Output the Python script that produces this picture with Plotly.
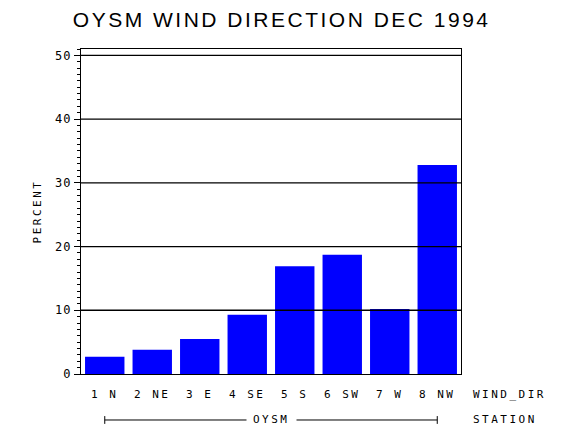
import plotly.graph_objects as go

# dados
direcoes = ["1 N", "2 NE", "3 E", "4 SE", "5 S", "6 SW", "7 W", "8 NW"]
percentuais = [2.7, 3.8, 5.5, 9.3, 16.9, 18.7, 10.2, 32.8]
estacao = "OYSM"
y_ticks = [0, 10, 20, 30, 40, 50]

FONTE = "DejaVu Sans Mono"


def espacado(txt, sp=2.5):
    # letras afastadas, como na fonte do grafico original
    return '<span style="letter-spacing:%spx">%s</span>' % (sp, txt)


fig = go.Figure()

fig.add_trace(go.Bar(x=direcoes, y=percentuais, marker_color="#0000ff",
                     marker_line_width=0))

# linhas de grade por cima das barras
for v in y_ticks[1:]:
    fig.add_shape(type="line", xref="paper", yref="y", x0=0, x1=1, y0=v, y1=v,
                  line=dict(color="black", width=1.3), layer="above")

# linha da estacao (do primeiro ao ultimo rotulo)
y_est = -0.1415
fig.add_shape(type="line", xref="x", yref="paper", x0=direcoes[0], x1=direcoes[-1],
              y0=y_est, y1=y_est, line=dict(color="black", width=1))
for d in [direcoes[0], direcoes[-1]]:
    fig.add_shape(type="line", xref="x", yref="paper", x0=d, x1=d,
                  y0=y_est + 0.012, y1=y_est - 0.012, line=dict(color="black", width=1))

fig.add_annotation(text=espacado(estacao), xref="paper", yref="paper", x=0.5, y=y_est,
                   xanchor="center", yanchor="middle", showarrow=False,
                   bgcolor="white", borderpad=6,
                   font=dict(family=FONTE, size=11, color="black"))
fig.add_annotation(text=espacado("WIND_DIR"), xref="paper", yref="paper", x=1.026, y=-0.063,
                   xanchor="left", yanchor="middle", showarrow=False,
                   font=dict(family=FONTE, size=11, color="black"))
fig.add_annotation(text=espacado("STATION"), xref="paper", yref="paper", x=1.026, y=y_est,
                   xanchor="left", yanchor="middle", showarrow=False,
                   font=dict(family=FONTE, size=11, color="black"))

# a pagina tem 8px de margem no body, por isso 562x422
fig.update_layout(
    width=562, height=422,
    margin=dict(l=73, r=109, t=41, b=56),
    paper_bgcolor="white", plot_bgcolor="white",
    showlegend=False, bargap=0.17,
    title=dict(text=espacado("OYSM WIND DIRECTION DEC 1994", 2.5),
               x=0.487, xref="container", xanchor="center",
               y=0.9716, yref="container", yanchor="middle",
               font=dict(family="Liberation Sans", size=21, color="black")),
)

fig.update_xaxes(
    range=[-0.5, len(direcoes) - 0.5],
    tickvals=direcoes, ticktext=[espacado(d) for d in direcoes],
    tickfont=dict(family=FONTE, size=11, color="black"),
    ticks="", ticklabelstandoff=10,
    showline=True, linecolor="black", linewidth=1.3, mirror=True,
    showgrid=False, zeroline=False,
)
fig.update_yaxes(
    range=[0, 51],
    tickvals=y_ticks, ticktext=[espacado(str(v), 1) for v in y_ticks],
    tickfont=dict(family=FONTE, size=12, color="black"),
    ticks="outside", ticklen=6, tickcolor="black", tickwidth=1,
    minor=dict(dtick=1, ticks="outside", ticklen=3, tickcolor="black", tickwidth=1),
    showline=True, linecolor="black", linewidth=1.3, mirror=True,
    showgrid=False, zeroline=False,
    title=dict(text=espacado("PERCENT"), standoff=11,
               font=dict(family=FONTE, size=11, color="black")),
)

fig.write_html("out.html")
